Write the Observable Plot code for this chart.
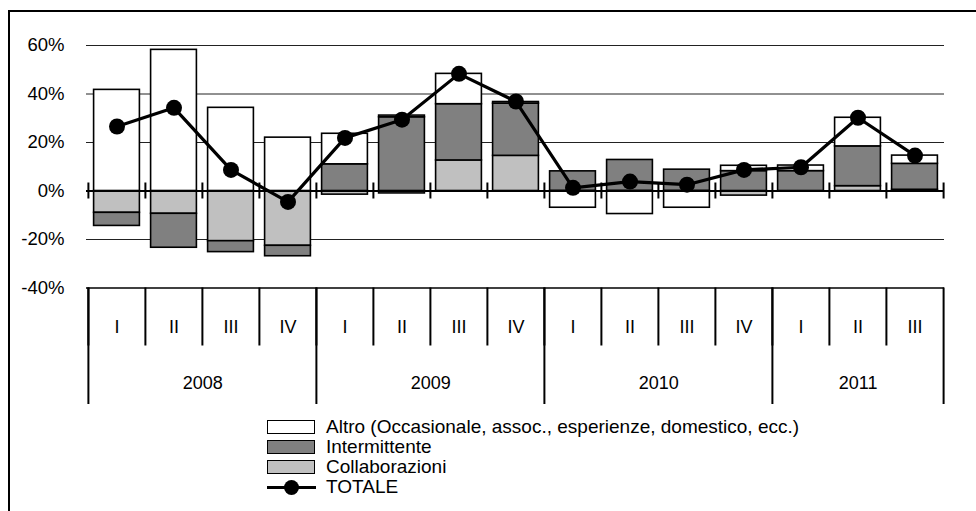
<!DOCTYPE html>
<html>
<head>
<meta charset="utf-8">
<script src="https://cdn.jsdelivr.net/npm/d3@7"></script>
<script src="https://cdn.jsdelivr.net/npm/@observablehq/plot@0.6"></script>
<style>
  body { margin: 0; background: #fff; }
  #wrap { position: relative; width: 976px; height: 511px; overflow: hidden; background: #fff; }
  #frame { position: absolute; left: 8px; top: 10px; width: 1200px; height: 800px;
           border-left: 2px solid #000; border-top: 2px solid #000; pointer-events: none; }
  #chart { position: absolute; left: 0; top: 0; }
  #legend { position: absolute; left: 267px; top: 417px;
            font-family: "Liberation Sans Narrow", "Liberation Sans", Arial, sans-serif;
            font-size: 19px; color: #000; }
  .row { height: 20px; display: flex; align-items: center; }
  .sw { width: 46px; height: 12px; border: 1.5px solid #000; margin-right: 11px; box-sizing: content-box; }
  .ln { width: 49px; height: 20px; margin-right: 10px; position: relative; }
  .ln::before { content: ""; position: absolute; left: 0; right: 0; top: 9px; height: 3px; background: #000; }
  .ln::after { content: ""; position: absolute; left: 17px; top: 3px; width: 15px; height: 15px; border-radius: 50%; background: #000; }
</style>
</head>
<body>
<div id="wrap">
  <div id="chart"></div>
  <div id="frame"></div>
  <div id="legend"></div>
</div>
<script>
// ---- data ----
const years = ["2008", "2009", "2010", "2011"];
const quarterYears = ["2008","2008","2008","2008","2009","2009","2009","2009","2010","2010","2010","2010","2011","2011","2011"];
const quarters = ["I","II","III","IV","I","II","III","IV","I","II","III","IV","I","II","III"];
const collaborazioni = [-9.0, -9.4, -20.7, -22.6, -1.5, -1.0, 12.6, 14.5, 0, 0, 0, -1.9, 0, 2.0, 0.5];
const intermittente  = [-5.4, -14.0, -4.5, -4.3, 11.0, 30.4, 23.2, 21.5, 8.1, 12.8, 8.8, 8.2, 8.2, 16.4, 10.7];
const altro          = [41.7, 58.2, 34.3, 22.0, 12.6, 0.7, 12.5, 0.7, -6.9, -9.5, -6.9, 2.2, 2.3, 11.8, 3.4];
const totale         = [26.6, 34.3, 8.7, -4.5, 21.9, 29.4, 48.3, 36.9, 1.3, 3.9, 2.6, 8.7, 9.8, 30.2, 14.6];
const seriesNames = ["Collaborazioni", "Intermittente", "Altro (Occasionale, assoc., esperienze, domestico, ecc.)"];
const seriesColors = ["#c0c0c0", "#808080", "#ffffff"];
const totaleName = "TOTALE";
const yTicks = [-40, -20, 0, 20, 40, 60];
const gridValues = [60, 40, 20, -20];

// ---- tables ----
const keys = quarters.map((q, i) => quarterYears[i] + " " + q);
const seriesValues = [collaborazioni, intermittente, altro];
const rows = [];
seriesNames.forEach((s, k) => keys.forEach((key, i) => rows.push({key, series: s, value: seriesValues[k][i]})));
const totRows = keys.map((key, i) => ({key, value: totale[i]}));

// ---- layout ----
const W = 976, H = 415, mL = 86, mR = 32, mT = 45, mB = H - 287.5;
const bw = (W - mL - mR) / keys.length;
const yearFirst = years.map(y => keys[quarterYears.indexOf(y)]);
const yearCount = years.map(y => quarterYears.filter(q => q === y).length);
const lastKey = keys[keys.length - 1];

const labelFont = "'Liberation Sans', Arial, sans-serif";

const chart = Plot.plot({
  width: W, height: H,
  marginLeft: mL, marginRight: mR, marginTop: mT, marginBottom: mB,
  style: {fontFamily: labelFont, fontSize: "18.5px", color: "#000", background: "transparent", overflow: "visible"},
  x: {domain: keys, padding: 0, axis: null},
  y: {domain: [-40, 60], ticks: yTicks, tickFormat: d => d + "%", tickSize: 0, tickPadding: 22, label: null},
  color: {domain: seriesNames, range: seriesColors},
  marks: [
    Plot.ruleY(gridValues, {stroke: "#222", strokeWidth: 1}),
    Plot.barY(rows, {x: "key", y: "value", fill: "series", stroke: "#000", strokeWidth: 1.6, insetLeft: 5.6, insetRight: 5.6}),
    // zero line and its ticks
    Plot.ruleY([0], {stroke: "#000", strokeWidth: 2}),
    Plot.ruleX(keys, {x: d => d, y1: 0, y2: 0, insetTop: -8, insetBottom: -8, dx: -bw / 2, stroke: "#000", strokeWidth: 2}),
    Plot.ruleX([lastKey], {x: d => d, y1: 0, y2: 0, insetTop: -8, insetBottom: -8, dx: bw / 2, stroke: "#000", strokeWidth: 2}),
    // category axis at -40
    Plot.ruleY([-40], {stroke: "#000", strokeWidth: 1.5}),
    Plot.ruleX(keys, {x: d => d, y1: -40, y2: -40, insetBottom: -58, dx: -bw / 2, stroke: "#000", strokeWidth: 2}),
    Plot.ruleX(yearFirst, {x: d => d, y1: -40, y2: -40, insetBottom: -116.5, dx: -bw / 2, stroke: "#000", strokeWidth: 2}),
    Plot.ruleX([lastKey], {x: d => d, y1: -40, y2: -40, insetBottom: -116.5, dx: bw / 2, stroke: "#000", strokeWidth: 2}),
    Plot.text(keys, {x: d => d, y: -40, dy: 39, text: (d, i) => quarters[i], fontSize: 18, fill: "#000"}),
    ...years.map((yr, j) => Plot.text([yr], {x: () => yearFirst[j], y: -40, dy: 95.5, dx: (yearCount[j] / 2 - 0.5) * bw, text: d => d, fontSize: 18, fill: "#000"})),
    // totale line
    Plot.line(totRows, {x: "key", y: "value", stroke: "#000", strokeWidth: 3.2}),
    Plot.dot(totRows, {x: "key", y: "value", r: 8, fill: "#000"})
  ]
});
document.getElementById("chart").appendChild(chart);

// ---- legend ----
const legend = document.getElementById("legend");
const legendOrder = [2, 1, 0];
legendOrder.forEach(k => {
  const row = document.createElement("div");
  row.className = "row";
  const sw = document.createElement("div");
  sw.className = "sw";
  sw.style.background = seriesColors[k];
  const t = document.createElement("span");
  t.textContent = seriesNames[k];
  row.appendChild(sw); row.appendChild(t);
  legend.appendChild(row);
});
const trow = document.createElement("div");
trow.className = "row";
const ln = document.createElement("div");
ln.className = "ln";
const tt = document.createElement("span");
tt.textContent = totaleName;
trow.appendChild(ln); trow.appendChild(tt);
legend.appendChild(trow);
</script>
</body>
</html>
